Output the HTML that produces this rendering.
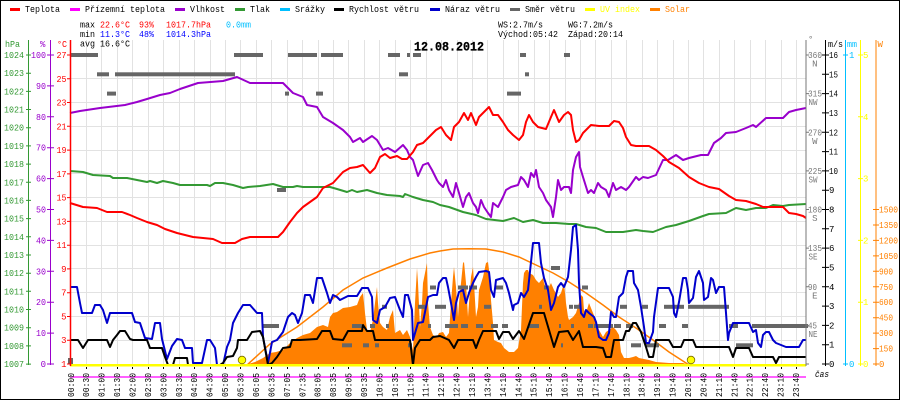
<!DOCTYPE html>
<html><head><meta charset="utf-8"><style>
html,body{margin:0;padding:0;background:#fff;}
svg{display:block;}
text{font-family:"Liberation Mono","DejaVu Sans Mono",monospace;font-size:9px;font-weight:normal;}
.ttl{font-size:12.5px;font-weight:bold;}
</style></head><body>
<svg width="900" height="400" viewBox="0 0 900 400" xmlns="http://www.w3.org/2000/svg">
<rect x="0.5" y="0.5" width="899" height="399" fill="#fff" stroke="#000" stroke-width="1"/>

<!-- grid -->
<g stroke="#e2e2e2" stroke-width="1" fill="none">
<path d="M86.5 40V364M101.5 40V364M117.5 40V364M132.5 40V364M148.5 40V364M163.5 40V364M179.5 40V364M194.5 40V364M210.5 40V364M225.5 40V364M240.5 40V364M256.5 40V364M271.5 40V364M287.5 40V364M302.5 40V364M318.5 40V364M333.5 40V364M348.5 40V364M364.5 40V364M379.5 40V364M395.5 40V364M410.5 40V364M426.5 40V364M441.5 40V364M457.5 40V364M472.5 40V364M487.5 40V364M503.5 40V364M518.5 40V364M534.5 40V364M549.5 40V364M565.5 40V364M580.5 40V364M595.5 40V364M611.5 40V364M626.5 40V364M642.5 40V364M657.5 40V364M673.5 40V364M688.5 40V364M703.5 40V364M719.5 40V364M734.5 40V364M750.5 40V364M765.5 40V364M781.5 40V364M796.5 40V364"/>
<path d="M71 78.5H806M71 102.5H806M71 126.5H806M71 150.5H806M71 173.5H806M71 197.5H806M71 221.5H806M71 245.5H806M71 268.5H806M71 292.5H806M71 316.5H806M71 340.5H806"/>
</g>

<!-- legend -->
<rect x="10" y="8" width="10" height="3" fill="#ff0000"/><text x="25" y="12" textLength="35" lengthAdjust="spacingAndGlyphs">Teplota</text>
<rect x="70" y="8" width="10" height="3" fill="#ff00ff"/><text x="85" y="12" textLength="80" lengthAdjust="spacingAndGlyphs">Přízemní teplota</text>
<rect x="175" y="8" width="10" height="3" fill="#9900cc"/><text x="190" y="12" textLength="35" lengthAdjust="spacingAndGlyphs">Vlhkost</text>
<rect x="235" y="8" width="10" height="3" fill="#339933"/><text x="250" y="12" textLength="20" lengthAdjust="spacingAndGlyphs">Tlak</text>
<rect x="280" y="8" width="10" height="3" fill="#00bfff"/><text x="295" y="12" textLength="30" lengthAdjust="spacingAndGlyphs">Srážky</text>
<rect x="334" y="8" width="10" height="3" fill="#000"/><text x="349" y="12" textLength="70" lengthAdjust="spacingAndGlyphs">Rychlost větru</text>
<rect x="430" y="8" width="10" height="3" fill="#0000cc"/><text x="445" y="12" textLength="55" lengthAdjust="spacingAndGlyphs">Náraz větru</text>
<rect x="510" y="8" width="10" height="3" fill="#666"/><text x="525" y="12" textLength="50" lengthAdjust="spacingAndGlyphs">Směr větru</text>
<rect x="585" y="8" width="10" height="3" fill="#ffff00"/><text x="600" y="12" textLength="40" lengthAdjust="spacingAndGlyphs" fill="#ffff00">UV index</text>
<rect x="650" y="8" width="10" height="3" fill="#ff8000"/><text x="665" y="12" textLength="25" lengthAdjust="spacingAndGlyphs" fill="#ff8000">Solar</text>

<!-- stats -->
<text x="80" y="27.3" textLength="15" lengthAdjust="spacingAndGlyphs">max</text>
<text x="100" y="27.3" textLength="30" lengthAdjust="spacingAndGlyphs" fill="#ff0000">22.6°C</text>
<text x="139" y="27.3" textLength="15" lengthAdjust="spacingAndGlyphs" fill="#ff0000">93%</text>
<text x="166" y="27.3" textLength="45" lengthAdjust="spacingAndGlyphs" fill="#ff0000">1017.7hPa</text>
<text x="226" y="27.3" textLength="25" lengthAdjust="spacingAndGlyphs" fill="#00bfff">0.0mm</text>
<text x="80" y="37" textLength="15" lengthAdjust="spacingAndGlyphs">min</text>
<text x="100" y="37" textLength="30" lengthAdjust="spacingAndGlyphs" fill="#0000ff">11.3°C</text>
<text x="139" y="37" textLength="15" lengthAdjust="spacingAndGlyphs" fill="#0000ff">48%</text>
<text x="166" y="37" textLength="45" lengthAdjust="spacingAndGlyphs" fill="#0000ff">1014.3hPa</text>
<text x="80" y="46.7" textLength="50" lengthAdjust="spacingAndGlyphs">avg 16.6°C</text>
<text x="498" y="27.3" textLength="45" lengthAdjust="spacingAndGlyphs">WS:2.7m/s</text>
<text x="568" y="27.3" textLength="45" lengthAdjust="spacingAndGlyphs">WG:7.2m/s</text>
<text x="498" y="37" textLength="60" lengthAdjust="spacingAndGlyphs">Východ:05:42</text>
<text x="568" y="37" textLength="55" lengthAdjust="spacingAndGlyphs">Západ:20:14</text>
<text class="ttl" x="414" y="50.7" textLength="70" lengthAdjust="spacingAndGlyphs" stroke="#000" stroke-width="0.3">12.08.2012</text>

<!-- solar fill -->
<polygon fill="#ff8000" points="245,365 255,362 263,358 270,353 276,352 283,350 290,343 297,338 303,335 310,333 317,327 323,325 328,327 330,317 333,313 337,312 343,308 350,307 357,305 360,297 363,293 365,313 367,330 370,332 373,320 375,303 377,287 378,303 380,323 383,327 387,330 390,317 393,310 395,333 400,330 403,335 407,330 410,337 413,350 415,303 417,268 418,283 420,327 422,303 423,283 427,263 428,303 430,327 433,335 437,337 439,333 443,332 446,337 449,333 451,303 453,277 454,267 456,287 458,317 459,303 461,283 463,263 464,262 466,283 468,317 469,303 471,277 473,267 474,283 476,317 478,307 479,290 483,277 486,263 488,262 489,270 491,300 493,323 494,340 498,342 501,343 504,348 509,352 514,352 518,348 521,330 523,283 524,273 526,270 528,270 529,273 533,275 536,280 539,283 543,278 544,283 546,288 549,287 551,283 554,290 558,297 561,293 564,283 566,303 568,317 569,320 573,317 576,313 579,303 581,295 583,297 584,310 586,313 589,303 593,313 596,320 599,330 603,337 606,332 609,330 613,327 616,330 619,335 621,352 624,358 629,358 633,357 636,356 639,358 649,360 656,362 669,363 683,363 689,365"/>
<polyline fill="none" stroke="#ff8000" stroke-width="1.5" points="247,365 270,344 297,327 323,307 343,290 363,278 387,268 410,259 430,253 440,251 453,249 469,248.7 486,249 503,252 519,257 536,265 553,273 569,282 586,293 603,305 619,317 636,328 653,340 669,352 686,363 689,365"/>

<!-- wind direction -->
<g fill="#666">
<rect x="70" y="53" width="28" height="4"/><rect x="234" y="53" width="29" height="4"/><rect x="288" y="53" width="29" height="4"/><rect x="321" y="53" width="22" height="4"/><rect x="388" y="53" width="12" height="4"/><rect x="407" y="53" width="3" height="4"/><rect x="413" y="53" width="8" height="4"/><rect x="520" y="53" width="6" height="4"/><rect x="564" y="53" width="6" height="4"/>
<rect x="97" y="72.3" width="12" height="4"/><rect x="115" y="72.3" width="120" height="4"/><rect x="399" y="72.3" width="9" height="4"/><rect x="525" y="72.3" width="4" height="4"/>
<rect x="107" y="91.6" width="9" height="4"/><rect x="285" y="91.6" width="4" height="4"/><rect x="316" y="91.6" width="7" height="4"/><rect x="507" y="91.6" width="14" height="4"/>
<rect x="277" y="188" width="9" height="4"/>
<rect x="551" y="266" width="9" height="4"/>
<rect x="430" y="285.5" width="6" height="4"/><rect x="458" y="285.5" width="10" height="4"/><rect x="469" y="285.5" width="8" height="4"/><rect x="496" y="285.5" width="7" height="4"/><rect x="544" y="285.5" width="5" height="4"/><rect x="582" y="285.5" width="6" height="4"/>
<rect x="382" y="304.8" width="5" height="4"/><rect x="418" y="304.8" width="7" height="4"/><rect x="435" y="304.8" width="11" height="4"/><rect x="484" y="304.8" width="7" height="4"/><rect x="539" y="304.8" width="3" height="4"/><rect x="569" y="304.8" width="4" height="4"/><rect x="574" y="304.8" width="7" height="4"/><rect x="620" y="304.8" width="7" height="4"/><rect x="642" y="304.8" width="6" height="4"/><rect x="664" y="304.8" width="20" height="4"/><rect x="688" y="304.8" width="41" height="4"/>
<rect x="262" y="324" width="17" height="4"/><rect x="352" y="324" width="10" height="4"/><rect x="370" y="324" width="5" height="4"/><rect x="386" y="324" width="3" height="4"/><rect x="428" y="324" width="3" height="4"/><rect x="445" y="324" width="13" height="4"/><rect x="461" y="324" width="7" height="4"/><rect x="476" y="324" width="7" height="4"/><rect x="491" y="324" width="7" height="4"/><rect x="502" y="324" width="6" height="4"/><rect x="528" y="324" width="11" height="4"/><rect x="559" y="324" width="2" height="4"/><rect x="571" y="324" width="3" height="4"/><rect x="588" y="324" width="5" height="4"/><rect x="594" y="324" width="19" height="4"/><rect x="614" y="324" width="7" height="4"/><rect x="626" y="324" width="7" height="4"/><rect x="659" y="324" width="7" height="4"/><rect x="682" y="324" width="6" height="4"/><rect x="729" y="324" width="9" height="4"/><rect x="752" y="324" width="56" height="4"/>
<rect x="342" y="343.3" width="10" height="4"/><rect x="363" y="343.3" width="6" height="4"/><rect x="375" y="343.3" width="4" height="4"/><rect x="408" y="343.3" width="4" height="4"/><rect x="561" y="343.3" width="2" height="4"/><rect x="631" y="343.3" width="10" height="4"/><rect x="646" y="343.3" width="13" height="4"/><rect x="736" y="343.3" width="17" height="4"/>
<rect x="68" y="358" width="5" height="6"/>
</g>

<!-- series -->
<g fill="none" stroke-width="2" stroke-linejoin="round">
<polyline stroke="#339933" points="70,171 83,172 93,175 110,176 113,178 127,178 137,180 147,182 150,181 157,183 163,181 173,183 180,185 207,185 210,186 215,183 223,183 233,185 243,188 248,187 260,186 273,184 283,187 293,187 297,186 303,187 317,187 330,187 337,189 347,192 352,190 357,192 367,190 377,193 387,195 400,196 403,197 405,194 413,197 423,200 433,202 440,205 449,207 463,212 476,215 486,219 503,221 514,218 523,222 533,220 543,223 556,223 569,224 576,224 586,227 596,228 606,232 623,232 636,230 643,231 653,232 666,227 676,225 689,221 703,216 709,214 726,213 736,208 746,210 756,208 766,208 773,205 783,206 789,205 806,204"/>
<polyline stroke="#9900cc" points="70,113 80,111 100,108 125,105 137,102 147,99 160,95 170,93 180,89 198,83 223,81 237,77 250,83 283,83 293,93 303,97 307,105 317,107 323,117 333,123 343,130 350,137 353,142 360,138 363,142 372,136 377,140 383,150 388,148 395,152 403,145 407,150 410,157 413,160 418,176 423,165 428,163 432,170 437,180 439,183 443,187 446,180 449,190 453,197 456,183 459,193 463,207 466,197 469,193 473,203 476,207 478,213 481,200 484,207 488,213 491,217 493,203 498,207 503,197 506,190 511,187 518,185 521,177 524,180 528,187 531,173 534,177 536,170 539,187 543,193 546,200 551,207 553,217 556,197 558,180 561,190 564,187 569,187 571,193 573,170 576,157 579,152 580,167 583,177 588,193 591,190 594,193 598,183 601,187 606,190 609,197 613,183 616,190 621,187 626,190 629,187 636,177 639,180 643,177 648,178 656,175 663,160 668,160 676,155 683,160 689,158 701,155 708,155 714,143 721,138 726,133 736,132 746,128 753,125 756,127 766,118 783,118 789,112 796,110 806,108"/>
<polyline stroke="#ff0000" points="70,203 83,207 97,208 107,212 122,212 130,215 137,218 147,222 157,225 165,229 177,233 185,235 193,237 203,238 213,239 222,243 235,243 242,239 250,237 278,237 283,232 290,222 297,213 303,207 310,202 317,197 323,188 333,183 343,172 350,168 357,167 363,165 370,173 375,168 380,157 385,154 390,158 397,156 402,159 407,159 413,152 417,145 423,143 430,136 436,130 441,127 446,135 451,140 454,127 459,122 464,113 468,120 471,113 476,125 479,117 486,110 489,107 493,115 498,115 503,122 508,130 513,135 519,140 523,135 526,122 529,115 533,122 538,127 546,129 551,117 554,110 559,122 564,115 568,112 571,115 573,130 576,142 579,140 583,133 588,128 591,125 599,126 609,126 614,121 619,122 623,128 626,137 631,145 636,146 649,146 656,150 663,156 669,162 679,168 689,177 699,183 709,187 719,189 729,196 736,200 746,201 756,204 763,207 773,207 783,207 789,213 796,214 803,216 806,218"/>
<polyline stroke="#0000cc" points="70,287 77,287 80,303 82,313 92,313 95,305 100,305 103,310 107,323 110,313 113,313 132,313 135,322 140,323 145,338 152,339 155,323 160,323 162,339 167,359 172,346 177,339 182,340 185,348 192,348 193,363 202,363 207,340 210,340 215,348 217,365 223,365 227,347 230,340 233,323 238,313 243,305 250,305 257,313 262,313 263,337 268,363 272,342 277,340 283,332 288,317 292,313 295,315 298,323 302,313 305,295 310,295 313,303 317,278 322,278 327,293 330,303 333,295 337,297 340,300 348,296 357,296 362,288 368,288 372,297 373,320 377,323 380,310 385,307 390,298 395,297 400,310 403,317 405,295 408,295 412,310 413,340 418,323 423,322 428,297 433,295 437,295 439,283 443,278 446,278 448,287 451,303 454,320 456,303 459,292 463,290 466,303 469,293 473,283 476,277 479,272 486,271 489,272 491,290 494,297 496,280 503,278 506,283 509,293 513,310 514,305 518,303 521,293 524,297 528,290 531,262 533,243 539,243 541,263 544,278 548,290 551,310 554,303 558,287 561,283 564,287 568,277 571,250 573,227 576,225 578,250 579,283 581,313 584,317 586,310 589,313 594,317 596,322 599,337 603,340 606,340 609,333 611,312 614,317 616,317 619,297 623,293 626,277 628,271 633,271 634,283 638,290 641,307 644,327 646,343 649,343 653,332 654,317 658,288 669,288 673,297 674,313 676,317 679,302 683,278 686,278 688,290 689,303 693,298 696,277 699,271 703,283 704,300 708,297 711,278 713,280 716,293 719,287 724,287 726,313 728,340 729,333 733,323 749,323 753,332 756,330 758,343 761,347 763,335 766,332 769,332 773,340 776,343 786,347 799,347 803,340 806,340"/>
<polyline stroke="#000" points="70,340 78,340 83,348 88,340 107,340 110,347 113,340 117,335 120,331 125,331 130,339 133,340 147,340 150,348 162,348 165,357 168,365 173,365 175,358 187,358 188,365 220,365 223,363 227,357 233,356 237,348 238,340 247,340 252,332 260,331 263,337 268,365 272,363 277,357 283,348 290,347 292,340 300,340 317,339 322,331 330,331 333,339 343,340 348,331 362,331 363,325 367,331 373,331 375,340 410,340 413,365 415,348 420,340 430,340 433,337 440,336 449,340 454,348 458,340 473,340 476,348 479,340 483,331 496,331 499,339 503,332 509,332 513,339 519,331 524,339 533,313 544,313 549,330 554,347 559,332 568,331 573,340 579,331 583,347 596,347 603,348 606,357 611,357 614,340 623,340 626,331 629,331 633,323 636,323 641,332 646,347 649,357 653,357 656,340 669,340 673,347 681,347 684,340 693,340 696,347 729,347 733,357 736,348 749,348 753,357 773,357 776,363 779,357 806,357"/>
</g>

<!-- bottom lines -->
<rect x="70" y="364" width="736" height="2.5" fill="#ffff00"/>
<line x1="70" y1="377" x2="806" y2="377" stroke="#ff00ff" stroke-width="1.3"/>
<circle cx="242" cy="360" r="3.8" fill="#ffff00" stroke="#7a6a00" stroke-width="0.8"/>
<circle cx="691" cy="360" r="3.8" fill="#ffff00" stroke="#7a6a00" stroke-width="0.8"/>

<!-- x ticks -->
<path stroke="#000" stroke-width="1" d="M86.5 367V369M101.5 367V369M117.5 367V369M132.5 367V369M148.5 367V369M163.5 367V369M179.5 367V369M194.5 367V369M210.5 367V369M225.5 367V369M240.5 367V369M256.5 367V369M271.5 367V369M287.5 367V369M302.5 367V369M318.5 367V369M333.5 367V369M348.5 367V369M364.5 367V369M379.5 367V369M395.5 367V369M410.5 367V369M426.5 367V369M441.5 367V369M457.5 367V369M472.5 367V369M487.5 367V369M503.5 367V369M518.5 367V369M534.5 367V369M549.5 367V369M565.5 367V369M580.5 367V369M595.5 367V369M611.5 367V369M626.5 367V369M642.5 367V369M657.5 367V369M673.5 367V369M688.5 367V369M703.5 367V369M719.5 367V369M734.5 367V369M750.5 367V369M765.5 367V369M781.5 367V369M796.5 367V369"/>

<!-- x labels -->
<g>
<text transform="translate(73.8,397) rotate(-90)" textLength="24" lengthAdjust="spacingAndGlyphs">00:00</text>
<text transform="translate(89.2,397) rotate(-90)" textLength="24" lengthAdjust="spacingAndGlyphs">00:30</text>
<text transform="translate(104.7,397) rotate(-90)" textLength="24" lengthAdjust="spacingAndGlyphs">01:00</text>
<text transform="translate(120.1,397) rotate(-90)" textLength="24" lengthAdjust="spacingAndGlyphs">01:30</text>
<text transform="translate(135.5,397) rotate(-90)" textLength="24" lengthAdjust="spacingAndGlyphs">02:00</text>
<text transform="translate(151,397) rotate(-90)" textLength="24" lengthAdjust="spacingAndGlyphs">02:30</text>
<text transform="translate(166.4,397) rotate(-90)" textLength="24" lengthAdjust="spacingAndGlyphs">03:00</text>
<text transform="translate(181.8,397) rotate(-90)" textLength="24" lengthAdjust="spacingAndGlyphs">03:30</text>
<text transform="translate(197.2,397) rotate(-90)" textLength="24" lengthAdjust="spacingAndGlyphs">04:00</text>
<text transform="translate(212.7,397) rotate(-90)" textLength="24" lengthAdjust="spacingAndGlyphs">04:30</text>
<text transform="translate(228.1,397) rotate(-90)" textLength="24" lengthAdjust="spacingAndGlyphs">05:00</text>
<text transform="translate(243.5,397) rotate(-90)" textLength="24" lengthAdjust="spacingAndGlyphs">05:30</text>
<text transform="translate(259,397) rotate(-90)" textLength="24" lengthAdjust="spacingAndGlyphs">06:05</text>
<text transform="translate(274.4,397) rotate(-90)" textLength="24" lengthAdjust="spacingAndGlyphs">06:35</text>
<text transform="translate(289.8,397) rotate(-90)" textLength="24" lengthAdjust="spacingAndGlyphs">07:05</text>
<text transform="translate(305.3,397) rotate(-90)" textLength="24" lengthAdjust="spacingAndGlyphs">07:35</text>
<text transform="translate(320.7,397) rotate(-90)" textLength="24" lengthAdjust="spacingAndGlyphs">08:05</text>
<text transform="translate(336.1,397) rotate(-90)" textLength="24" lengthAdjust="spacingAndGlyphs">08:35</text>
<text transform="translate(351.5,397) rotate(-90)" textLength="24" lengthAdjust="spacingAndGlyphs">09:05</text>
<text transform="translate(367,397) rotate(-90)" textLength="24" lengthAdjust="spacingAndGlyphs">09:35</text>
<text transform="translate(382.4,397) rotate(-90)" textLength="24" lengthAdjust="spacingAndGlyphs">10:05</text>
<text transform="translate(397.8,397) rotate(-90)" textLength="24" lengthAdjust="spacingAndGlyphs">10:35</text>
<text transform="translate(413.3,397) rotate(-90)" textLength="24" lengthAdjust="spacingAndGlyphs">11:05</text>
<text transform="translate(428.7,397) rotate(-90)" textLength="24" lengthAdjust="spacingAndGlyphs">11:40</text>
<text transform="translate(444.1,397) rotate(-90)" textLength="24" lengthAdjust="spacingAndGlyphs">12:10</text>
<text transform="translate(459.6,397) rotate(-90)" textLength="24" lengthAdjust="spacingAndGlyphs">12:40</text>
<text transform="translate(475,397) rotate(-90)" textLength="24" lengthAdjust="spacingAndGlyphs">13:10</text>
<text transform="translate(490.4,397) rotate(-90)" textLength="24" lengthAdjust="spacingAndGlyphs">13:40</text>
<text transform="translate(505.8,397) rotate(-90)" textLength="24" lengthAdjust="spacingAndGlyphs">14:10</text>
<text transform="translate(521.3,397) rotate(-90)" textLength="24" lengthAdjust="spacingAndGlyphs">14:40</text>
<text transform="translate(536.7,397) rotate(-90)" textLength="24" lengthAdjust="spacingAndGlyphs">15:10</text>
<text transform="translate(552.1,397) rotate(-90)" textLength="24" lengthAdjust="spacingAndGlyphs">15:40</text>
<text transform="translate(567.6,397) rotate(-90)" textLength="24" lengthAdjust="spacingAndGlyphs">16:10</text>
<text transform="translate(583,397) rotate(-90)" textLength="24" lengthAdjust="spacingAndGlyphs">16:40</text>
<text transform="translate(598.4,397) rotate(-90)" textLength="24" lengthAdjust="spacingAndGlyphs">17:10</text>
<text transform="translate(613.9,397) rotate(-90)" textLength="24" lengthAdjust="spacingAndGlyphs">17:40</text>
<text transform="translate(629.3,397) rotate(-90)" textLength="24" lengthAdjust="spacingAndGlyphs">18:10</text>
<text transform="translate(644.7,397) rotate(-90)" textLength="24" lengthAdjust="spacingAndGlyphs">18:40</text>
<text transform="translate(660.1,397) rotate(-90)" textLength="24" lengthAdjust="spacingAndGlyphs">19:10</text>
<text transform="translate(675.6,397) rotate(-90)" textLength="24" lengthAdjust="spacingAndGlyphs">19:40</text>
<text transform="translate(691,397) rotate(-90)" textLength="24" lengthAdjust="spacingAndGlyphs">20:10</text>
<text transform="translate(706.4,397) rotate(-90)" textLength="24" lengthAdjust="spacingAndGlyphs">20:40</text>
<text transform="translate(721.9,397) rotate(-90)" textLength="24" lengthAdjust="spacingAndGlyphs">21:10</text>
<text transform="translate(737.3,397) rotate(-90)" textLength="24" lengthAdjust="spacingAndGlyphs">21:40</text>
<text transform="translate(752.7,397) rotate(-90)" textLength="24" lengthAdjust="spacingAndGlyphs">22:10</text>
<text transform="translate(768.2,397) rotate(-90)" textLength="24" lengthAdjust="spacingAndGlyphs">22:40</text>
<text transform="translate(783.6,397) rotate(-90)" textLength="24" lengthAdjust="spacingAndGlyphs">23:10</text>
<text transform="translate(799,397) rotate(-90)" textLength="24" lengthAdjust="spacingAndGlyphs">23:40</text>
</g>
<text x="815" y="377" textLength="14" lengthAdjust="spacingAndGlyphs" font-style="italic">čas</text>

<!-- left axes -->
<line x1="28.5" y1="40" x2="28.5" y2="365" stroke="#339933" stroke-width="1"/>
<line x1="50.5" y1="40" x2="50.5" y2="365" stroke="#9900cc" stroke-width="1"/>
<line x1="70.5" y1="40" x2="70.5" y2="366" stroke="#ff0000" stroke-width="1.5"/>
<text x="5" y="47" textLength="15" lengthAdjust="spacingAndGlyphs" fill="#339933">hPa</text>
<text x="40" y="47" fill="#9900cc">%</text>
<text x="57" y="47" textLength="10" lengthAdjust="spacingAndGlyphs" fill="#ff0000">°C</text>

<g stroke="#339933" stroke-width="1">
<path d="M26 55H31M26 73.2H31M26 91.4H31M26 109.5H31M26 127.7H31M26 145.9H31M26 164.1H31M26 182.3H31M26 200.4H31M26 218.6H31M26 236.8H31M26 255H31M26 273.2H31M26 291.3H31M26 309.5H31M26 327.7H31M26 345.9H31M26 364.1H31"/>
</g>
<g fill="#339933" text-anchor="end">
<text x="24" y="58" textLength="20" lengthAdjust="spacingAndGlyphs">1024</text>
<text x="24" y="76.2" textLength="20" lengthAdjust="spacingAndGlyphs">1023</text>
<text x="24" y="94.4" textLength="20" lengthAdjust="spacingAndGlyphs">1022</text>
<text x="24" y="112.5" textLength="20" lengthAdjust="spacingAndGlyphs">1021</text>
<text x="24" y="130.7" textLength="20" lengthAdjust="spacingAndGlyphs">1020</text>
<text x="24" y="148.9" textLength="20" lengthAdjust="spacingAndGlyphs">1019</text>
<text x="24" y="167.1" textLength="20" lengthAdjust="spacingAndGlyphs">1018</text>
<text x="24" y="185.3" textLength="20" lengthAdjust="spacingAndGlyphs">1017</text>
<text x="24" y="203.4" textLength="20" lengthAdjust="spacingAndGlyphs">1016</text>
<text x="24" y="221.6" textLength="20" lengthAdjust="spacingAndGlyphs">1015</text>
<text x="24" y="239.8" textLength="20" lengthAdjust="spacingAndGlyphs">1014</text>
<text x="24" y="258" textLength="20" lengthAdjust="spacingAndGlyphs">1013</text>
<text x="24" y="276.2" textLength="20" lengthAdjust="spacingAndGlyphs">1012</text>
<text x="24" y="294.3" textLength="20" lengthAdjust="spacingAndGlyphs">1011</text>
<text x="24" y="312.5" textLength="20" lengthAdjust="spacingAndGlyphs">1010</text>
<text x="24" y="330.7" textLength="20" lengthAdjust="spacingAndGlyphs">1009</text>
<text x="24" y="348.9" textLength="20" lengthAdjust="spacingAndGlyphs">1008</text>
<text x="24" y="367.1" textLength="20" lengthAdjust="spacingAndGlyphs">1007</text>
</g>

<g stroke="#9900cc" stroke-width="1">
<path d="M47 55H54M47 85.9H54M47 116.8H54M47 147.7H54M47 178.6H54M47 209.5H54M47 240.4H54M47 271.3H54M47 302.2H54M47 333.1H54M47 364H54"/>
</g>
<g fill="#9900cc" text-anchor="end">
<text x="46" y="58" textLength="15" lengthAdjust="spacingAndGlyphs">100</text>
<text x="46" y="88.9" textLength="10" lengthAdjust="spacingAndGlyphs">90</text>
<text x="46" y="119.8" textLength="10" lengthAdjust="spacingAndGlyphs">80</text>
<text x="46" y="150.7" textLength="10" lengthAdjust="spacingAndGlyphs">70</text>
<text x="46" y="181.6" textLength="10" lengthAdjust="spacingAndGlyphs">60</text>
<text x="46" y="212.5" textLength="10" lengthAdjust="spacingAndGlyphs">50</text>
<text x="46" y="243.4" textLength="10" lengthAdjust="spacingAndGlyphs">40</text>
<text x="46" y="274.3" textLength="10" lengthAdjust="spacingAndGlyphs">30</text>
<text x="46" y="305.2" textLength="10" lengthAdjust="spacingAndGlyphs">20</text>
<text x="46" y="336.1" textLength="10" lengthAdjust="spacingAndGlyphs">10</text>
<text x="46" y="367">0</text>
</g>

<g stroke="#ff0000" stroke-width="1">
<path d="M67 55H70M67 78.8H70M67 102.5H70M67 126.3H70M67 150.1H70M67 173.9H70M67 197.6H70M67 221.4H70M67 245.2H70M67 268.9H70M67 292.7H70M67 316.5H70M67 340.2H70M67 364H70"/>
</g>
<g fill="#ff0000" text-anchor="end">
<text x="66.5" y="58" textLength="10" lengthAdjust="spacingAndGlyphs">27</text>
<text x="66.5" y="81.8" textLength="10" lengthAdjust="spacingAndGlyphs">25</text>
<text x="66.5" y="105.5" textLength="10" lengthAdjust="spacingAndGlyphs">23</text>
<text x="66.5" y="129.3" textLength="10" lengthAdjust="spacingAndGlyphs">21</text>
<text x="66.5" y="153.1" textLength="10" lengthAdjust="spacingAndGlyphs">19</text>
<text x="66.5" y="176.9" textLength="10" lengthAdjust="spacingAndGlyphs">17</text>
<text x="66.5" y="200.6" textLength="10" lengthAdjust="spacingAndGlyphs">15</text>
<text x="66.5" y="224.4" textLength="10" lengthAdjust="spacingAndGlyphs">13</text>
<text x="66.5" y="248.2" textLength="10" lengthAdjust="spacingAndGlyphs">11</text>
<text x="66.5" y="271.9">9</text>
<text x="66.5" y="295.7">7</text>
<text x="66.5" y="319.5">5</text>
<text x="66.5" y="343.2">3</text>
<text x="66.5" y="367">1</text>
</g>

<!-- right axes -->
<line x1="806" y1="40" x2="806" y2="366" stroke="#777" stroke-width="1"/>
<line x1="825.5" y1="40" x2="825.5" y2="366" stroke="#000" stroke-width="1"/>
<line x1="845.5" y1="40" x2="845.5" y2="366" stroke="#00bfff" stroke-width="1"/>
<line x1="860.5" y1="40" x2="860.5" y2="366" stroke="#ffff00" stroke-width="1"/>
<line x1="876" y1="40" x2="876" y2="366" stroke="#ff8000" stroke-width="1"/>
<text x="808" y="42" fill="#777">°</text>
<text x="828" y="47" textLength="15" lengthAdjust="spacingAndGlyphs">m/s</text>
<text x="847" y="47" textLength="10" lengthAdjust="spacingAndGlyphs" fill="#00bfff">mm</text>
<text x="877.5" y="47" fill="#ff8000">W</text>

<g stroke="#777" stroke-width="1"><path d="M806 55H809M806 93.6H809M806 132.3H809M806 170.9H809M806 209.5H809M806 248.1H809M806 286.8H809M806 325.4H809M806 364H809"/></g>
<g fill="#777">
<text x="808" y="58" textLength="14" lengthAdjust="spacingAndGlyphs">360</text>
<text x="808" y="96.6" textLength="14" lengthAdjust="spacingAndGlyphs">315</text>
<text x="808" y="135.3" textLength="14" lengthAdjust="spacingAndGlyphs">270</text>
<text x="808" y="173.9" textLength="14" lengthAdjust="spacingAndGlyphs">225</text>
<text x="808" y="212.5" textLength="14" lengthAdjust="spacingAndGlyphs">180</text>
<text x="808" y="251.1" textLength="14" lengthAdjust="spacingAndGlyphs">135</text>
<text x="808" y="289.8" textLength="9" lengthAdjust="spacingAndGlyphs">90</text>
<text x="808" y="328.4" textLength="9" lengthAdjust="spacingAndGlyphs">45</text>
</g>
<g fill="#777" text-anchor="end">
<text x="817.5" y="66.5">N</text>
<text x="817.5" y="105.1" textLength="9" lengthAdjust="spacingAndGlyphs">NW</text>
<text x="817.5" y="143.8">W</text>
<text x="817.5" y="182.4" textLength="9" lengthAdjust="spacingAndGlyphs">SW</text>
<text x="817.5" y="221">S</text>
<text x="817.5" y="259.6" textLength="9" lengthAdjust="spacingAndGlyphs">SE</text>
<text x="817.5" y="298.3">E</text>
<text x="817.5" y="336.9" textLength="9" lengthAdjust="spacingAndGlyphs">NE</text>
</g>

<g stroke="#000" stroke-width="1"><path d="M822 55H829M822 74.3H829M822 93.6H829M822 112.9H829M822 132.3H829M822 151.6H829M822 170.9H829M822 190.2H829M822 209.5H829M822 228.8H829M822 248.1H829M822 267.4H829M822 286.8H829M822 306.1H829M822 325.4H829M822 344.7H829M822 364H829"/></g>
<g fill="#000">
<text x="829" y="58" textLength="9" lengthAdjust="spacingAndGlyphs">16</text>
<text x="829" y="77.3" textLength="9" lengthAdjust="spacingAndGlyphs">15</text>
<text x="829" y="96.6" textLength="9" lengthAdjust="spacingAndGlyphs">14</text>
<text x="829" y="115.9" textLength="9" lengthAdjust="spacingAndGlyphs">13</text>
<text x="829" y="135.3" textLength="9" lengthAdjust="spacingAndGlyphs">12</text>
<text x="829" y="154.6" textLength="9" lengthAdjust="spacingAndGlyphs">11</text>
<text x="829" y="173.9" textLength="9" lengthAdjust="spacingAndGlyphs">10</text>
<text x="829" y="193.2">9</text>
<text x="829" y="212.5">8</text>
<text x="829" y="231.8">7</text>
<text x="829" y="251.1">6</text>
<text x="829" y="270.4">5</text>
<text x="829" y="289.8">4</text>
<text x="829" y="309.1">3</text>
<text x="829" y="328.4">2</text>
<text x="829" y="347.7">1</text>
<text x="829" y="367">0</text>
</g>

<g stroke="#00bfff" stroke-width="1"><path d="M843 55H848M843 364H848"/></g>
<text x="849" y="58" fill="#00bfff">1</text>
<text x="849" y="367" fill="#00bfff">0</text>

<g stroke="#ffff00" stroke-width="1"><path d="M858 55H863M858 116.8H863M858 178.6H863M858 240.4H863M858 302.2H863M858 364H863"/></g>
<g fill="#ffff00">
<text x="863" y="58">5</text>
<text x="863" y="119.8">4</text>
<text x="863" y="181.6">3</text>
<text x="863" y="243.4">2</text>
<text x="863" y="305.2">1</text>
<text x="863" y="367">0</text>
</g>

<g stroke="#ff8000" stroke-width="1"><path d="M873 209.5H879M873 225H879M873 240.4H879M873 255.9H879M873 271.3H879M873 286.8H879M873 302.2H879M873 317.7H879M873 333.1H879M873 348.6H879M873 364H879"/></g>
<g fill="#ff8000">
<text x="879" y="212.5" textLength="19" lengthAdjust="spacingAndGlyphs">1500</text>
<text x="879" y="228" textLength="19" lengthAdjust="spacingAndGlyphs">1350</text>
<text x="879" y="243.4" textLength="19" lengthAdjust="spacingAndGlyphs">1200</text>
<text x="879" y="258.9" textLength="19" lengthAdjust="spacingAndGlyphs">1050</text>
<text x="879" y="274.3" textLength="14" lengthAdjust="spacingAndGlyphs">900</text>
<text x="879" y="289.8" textLength="14" lengthAdjust="spacingAndGlyphs">750</text>
<text x="879" y="305.2" textLength="14" lengthAdjust="spacingAndGlyphs">600</text>
<text x="879" y="320.7" textLength="14" lengthAdjust="spacingAndGlyphs">450</text>
<text x="879" y="336.1" textLength="14" lengthAdjust="spacingAndGlyphs">300</text>
<text x="879" y="351.6" textLength="14" lengthAdjust="spacingAndGlyphs">150</text>
<text x="879" y="367">0</text>
</g>
</svg>
</body></html>
